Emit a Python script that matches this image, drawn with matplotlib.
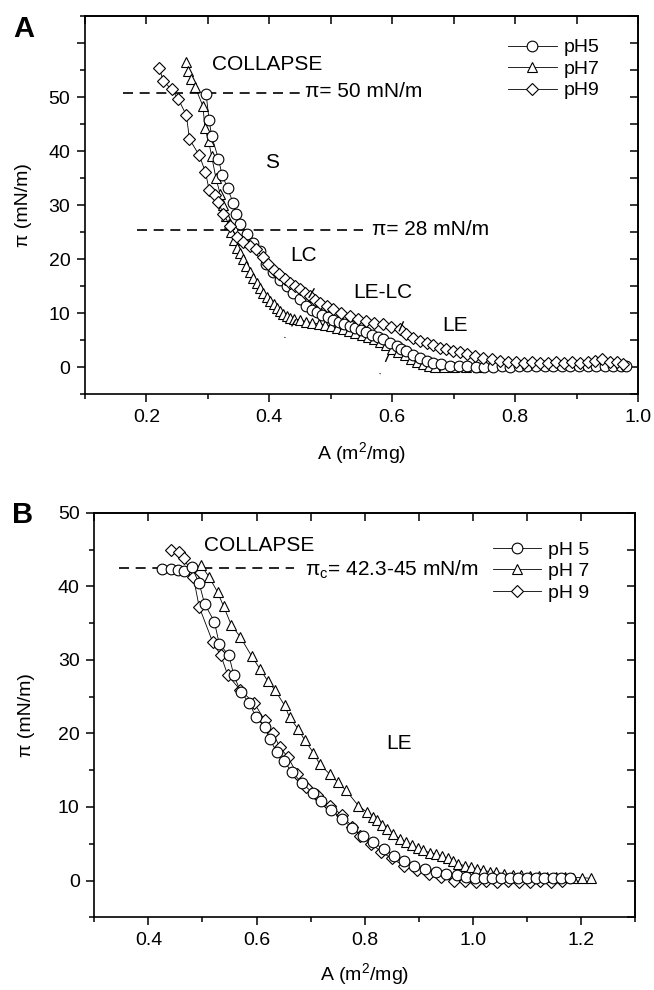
import matplotlib
matplotlib.use('Agg')
import matplotlib.pyplot as plt
from matplotlib.ticker import MultipleLocator, FixedLocator

plt.rcParams['font.family'] = ['Liberation Sans', 'DejaVu Sans']
plt.rcParams['mathtext.fontset'] = 'custom'
plt.rcParams['mathtext.rm'] = 'Liberation Sans'
plt.rcParams['mathtext.it'] = 'Liberation Sans:italic'

# ---------------- panel A data (area m2/mg, surface pressure mN/m) ----------------
a_ph5 = [0.297, 0.302, 0.306, 0.317, 0.323, 0.332, 0.341, 0.345, 0.353, 0.363,
         0.374, 0.385, 0.395, 0.406, 0.417, 0.428, 0.439, 0.450, 0.460, 0.469,
         0.477, 0.486, 0.495, 0.504, 0.513, 0.522, 0.531, 0.540, 0.549, 0.558,
         0.567, 0.576, 0.585, 0.596, 0.607, 0.615, 0.623, 0.634, 0.645, 0.656,
         0.666, 0.680, 0.694, 0.708, 0.722, 0.736, 0.750, 0.764, 0.778, 0.792,
         0.806, 0.820, 0.834, 0.848, 0.862, 0.876, 0.890, 0.904, 0.918, 0.932,
         0.946, 0.960, 0.972, 0.980]
p_ph5 = [50.6, 45.7, 42.8, 38.6, 35.6, 33.1, 30.4, 28.4, 26.4, 24.7,
         23.0, 21.4, 19.0, 17.6, 16.2, 15.0, 13.8, 12.6, 11.3, 10.6,
         10.1, 9.6, 9.2, 8.8, 8.4, 8.0, 7.6, 7.2, 6.8, 6.4,
         5.9, 5.5, 5.1, 4.5, 3.9, 3.4, 3.0, 2.3, 1.7, 1.2,
         0.8, 0.5, 0.2, 0.1, 0.1, 0.0, 0.0, 0.0, 0.1, 0.0,
         0.1, 0.1, 0.1, 0.1, 0.1, 0.1, 0.1, 0.2, 0.2, 0.2,
         0.2, 0.2, 0.2, 0.2]

a_ph7 = [0.265, 0.268, 0.273, 0.279, 0.292, 0.295, 0.301, 0.306, 0.313, 0.320,
         0.325, 0.330, 0.334, 0.338, 0.342, 0.347, 0.352, 0.357, 0.362, 0.368,
         0.374, 0.380, 0.385, 0.390, 0.396, 0.401, 0.407, 0.412, 0.417, 0.422,
         0.428, 0.433, 0.440, 0.450, 0.460, 0.470, 0.480, 0.490, 0.500, 0.510,
         0.520, 0.530, 0.540, 0.550, 0.560, 0.570, 0.580, 0.590, 0.600, 0.610,
         0.620, 0.630, 0.640, 0.650, 0.660, 0.670, 0.685, 0.700, 0.720, 0.740]
p_ph7 = [56.4, 54.8, 53.3, 51.9, 48.3, 44.3, 41.9, 39.1, 35.0, 32.0,
         30.0, 28.0, 26.5, 25.0, 23.5, 22.0, 21.2, 20.0, 18.8, 17.6,
         16.5, 15.6, 14.6, 13.8, 13.0, 12.3, 11.6, 11.0, 10.4, 9.9,
         9.4, 9.0, 8.9, 8.7, 8.4, 8.2, 8.0, 7.8, 7.6, 7.3,
         7.0, 6.7, 6.3, 6.0, 5.6, 5.1, 4.6, 4.0, 3.4, 2.8,
         2.2, 1.5, 0.9, 0.5, 0.2, 0.0, 0.0, 0.0, 0.0, 0.0]

a_ph9 = [0.221, 0.227, 0.241, 0.252, 0.265, 0.270, 0.286, 0.296, 0.302, 0.311,
         0.317, 0.325, 0.336, 0.347, 0.357, 0.368, 0.379, 0.389, 0.398, 0.407,
         0.416, 0.425, 0.433, 0.441, 0.450, 0.458, 0.466, 0.474, 0.482, 0.493,
         0.504, 0.517, 0.531, 0.544, 0.558, 0.571, 0.585, 0.598, 0.612, 0.623,
         0.634, 0.645, 0.656, 0.667, 0.677, 0.688, 0.699, 0.710, 0.721, 0.735,
         0.748, 0.762, 0.775, 0.788, 0.801, 0.814, 0.827, 0.840, 0.853, 0.866,
         0.879, 0.892, 0.905, 0.918, 0.930, 0.942, 0.954, 0.966, 0.976]
p_ph9 = [55.4, 53.0, 51.4, 49.6, 46.6, 42.2, 39.2, 36.1, 32.8, 31.8,
         30.6, 28.3, 26.2, 24.0, 23.2, 22.5, 21.8, 20.3, 19.0, 18.0,
         17.2, 16.3, 15.6, 15.0, 14.4, 13.7, 13.1, 12.5, 11.9, 11.3,
         10.7, 10.0, 9.4, 8.9, 8.5, 8.2, 7.9, 7.4, 7.0, 6.2,
         5.4, 4.9, 4.5, 4.0, 3.6, 3.3, 3.0, 2.7, 2.4, 2.0,
         1.7, 1.4, 1.1, 1.0, 0.9, 0.8, 0.9, 0.8, 0.8, 0.9,
         0.8, 0.9, 0.8, 1.0, 1.1, 1.4, 1.0, 0.9, 0.6]

# ---------------- panel B data ----------------
b_ph5 = [0.426, 0.441, 0.454, 0.466, 0.480, 0.494, 0.504, 0.522, 0.531, 0.549,
         0.558, 0.571, 0.587, 0.599, 0.615, 0.624, 0.637, 0.650, 0.665, 0.685,
         0.704, 0.719, 0.738, 0.758, 0.777, 0.796, 0.815, 0.835, 0.854, 0.873,
         0.892, 0.912, 0.931, 0.950, 0.970, 0.988, 1.004, 1.020, 1.036, 1.052,
         1.068, 1.084, 1.100, 1.116, 1.132, 1.148, 1.164, 1.180]
q_ph5 = [42.3, 42.3, 42.2, 42.1, 42.6, 40.4, 37.6, 35.2, 32.2, 30.6,
         27.9, 25.6, 24.1, 22.2, 20.9, 19.3, 17.5, 16.3, 14.8, 13.2,
         11.9, 10.8, 9.6, 8.4, 7.1, 6.1, 5.2, 4.3, 3.4, 2.7,
         2.0, 1.6, 1.1, 0.9, 0.7, 0.5, 0.4, 0.4, 0.3, 0.3,
         0.3, 0.3, 0.3, 0.3, 0.3, 0.3, 0.3, 0.3]

b_ph7 = [0.497, 0.512, 0.528, 0.539, 0.553, 0.570, 0.591, 0.606, 0.621, 0.634,
         0.652, 0.661, 0.677, 0.689, 0.705, 0.717, 0.735, 0.750, 0.765, 0.788,
         0.804, 0.815, 0.823, 0.832, 0.842, 0.853, 0.865, 0.877, 0.888, 0.898,
         0.908, 0.920, 0.931, 0.943, 0.954, 0.963, 0.973, 0.985, 0.996, 1.008,
         1.019, 1.031, 1.042, 1.058, 1.074, 1.090, 1.106, 1.122, 1.138, 1.154,
         1.170, 1.186, 1.202, 1.218]
q_ph7 = [42.9, 41.3, 39.2, 37.3, 34.8, 33.1, 30.5, 28.8, 27.1, 25.9,
         23.8, 22.2, 20.6, 19.1, 17.4, 15.8, 14.5, 13.4, 12.3, 10.2,
         9.3, 8.7, 8.2, 7.6, 7.0, 6.3, 5.7, 5.2, 4.8, 4.4,
         4.1, 3.8, 3.6, 3.3, 3.0, 2.6, 2.3, 2.0, 1.8, 1.6,
         1.4, 1.2, 1.1, 0.9, 0.8, 0.7, 0.6, 0.6, 0.5, 0.5,
         0.5, 0.4, 0.4, 0.3]

b_ph9 = [0.442, 0.456, 0.465, 0.478, 0.483, 0.494, 0.519, 0.534, 0.547, 0.570,
         0.596, 0.615, 0.631, 0.643, 0.658, 0.675, 0.692, 0.712, 0.735, 0.758,
         0.777, 0.792, 0.812, 0.831, 0.850, 0.873, 0.896, 0.919, 0.942, 0.965,
         0.985, 1.005, 1.025, 1.045, 1.065, 1.085, 1.105, 1.125, 1.145, 1.165]
q_ph9 = [44.9, 44.7, 43.8, 42.2, 41.3, 37.2, 32.4, 30.6, 27.9, 25.9,
         24.1, 21.8, 20.0, 18.1, 16.8, 14.5, 12.7, 11.6, 10.2, 8.9,
         7.3, 6.1, 5.0, 3.9, 3.0, 2.0, 1.4, 0.9, 0.5, 0.0,
         -0.1, -0.2, -0.1, -0.2, -0.1, -0.2, -0.2, -0.1, -0.2, -0.1]

# annotation guides
collapse_a = 50.7
pi28_line = 25.4
lc_guide = ([0.425, 0.484], [5.4, 16.6])
lelc_guide = ([0.580, 0.624], [-1.3, 9.9])
collapse_b = 42.55

fig = plt.figure(figsize=(6.54, 9.9), dpi=100)
axA = fig.add_axes([0.130, 0.602, 0.8456, 0.3818])
axB = fig.add_axes([0.1442, 0.0734, 0.8268, 0.4087])

mk = dict(color='black', lw=0.6, mfc='white', mec='black', mew=0.8)
fs_tick = 14
fs_text = 15

# panel A
l7, = axA.plot(a_ph7, p_ph7, marker='^', ms=7.5, zorder=2, **mk)
l5, = axA.plot(a_ph5, p_ph5, marker='o', ms=7.7, zorder=3, **mk)
l9, = axA.plot(a_ph9, p_ph9, marker='D', ms=6.2, zorder=4, **mk)

axA.plot([0.162, 0.455], [collapse_a, collapse_a], color='black', lw=1.2, ls=(0, (6, 4)))
axA.plot([0.184, 0.552], [pi28_line, pi28_line], color='black', lw=1.2, ls=(0, (6, 4)))
for gx, gy in (lc_guide, lelc_guide):
    axA.plot(gx, gy, color='black', lw=1.0, ls=(0, (0.6, 9, 6, 18, 8, 30)), zorder=5)

axA.text(0.306, 56.1, 'COLLAPSE', fontsize=fs_text, va='center', ha='left')
axA.text(0.458, 51.1, 'π= 50 mN/m', fontsize=fs_text, va='center', ha='left')
axA.text(0.567, 25.5, 'π= 28 mN/m', fontsize=fs_text, va='center', ha='left')
axA.text(0.404, 37.9, 'S', fontsize=fs_text, va='center', ha='center')
axA.text(0.455, 20.6, 'LC', fontsize=fs_text, va='center', ha='center')
axA.text(0.585, 13.8, 'LE-LC', fontsize=fs_text, va='center', ha='center')
axA.text(0.702, 7.6, 'LE', fontsize=fs_text, va='center', ha='center')

axA.set_xlim(0.1, 1.0)
axA.set_ylim(-5, 65)
axA.xaxis.set_major_locator(FixedLocator([0.2, 0.4, 0.6, 0.8, 1.0]))
axA.xaxis.set_minor_locator(MultipleLocator(0.1))
axA.set_yticks([0, 10, 20, 30, 40, 50, 60])
axA.set_yticklabels(['0', '10', '20', '30', '40', '50', ''])
axA.yaxis.set_minor_locator(MultipleLocator(5))
axA.set_xlabel('A (m$^\\mathregular{2}$/mg)', fontsize=fs_tick)
axA.set_ylabel('π (mN/m)', fontsize=fs_tick)
axA.xaxis.set_label_coords(0.5, -0.122)
axA.yaxis.set_label_coords(-0.096, 0.5)

axA.legend([l5, l7, l9], ['pH5', 'pH7', 'pH9'], loc='upper left',
           bbox_to_anchor=(0.765, 0.94), frameon=False, fontsize=fs_tick,
           handlelength=2.5, handletextpad=0.35, labelspacing=0.2,
           borderpad=0, borderaxespad=0)

# panel B
m9, = axB.plot(b_ph9, q_ph9, marker='D', ms=6.2, zorder=2, **mk)
m7, = axB.plot(b_ph7, q_ph7, marker='^', ms=7.5, zorder=3, **mk)
m5, = axB.plot(b_ph5, q_ph5, marker='o', ms=7.7, zorder=4, **mk)

axB.plot([0.345, 0.670], [collapse_b, collapse_b], color='black', lw=1.2, ls=(0, (6, 4)))
axB.text(0.503, 45.6, 'COLLAPSE', fontsize=fs_text, va='center', ha='left')
axB.text(0.689, 42.2, '$\\mathregular{\\pi_c}$= 42.3-45 mN/m', fontsize=fs_text,
         va='center', ha='left')
axB.text(0.863, 18.6, 'LE', fontsize=fs_text, va='center', ha='center')

axB.set_xlim(0.3, 1.3)
axB.set_ylim(-5, 50)
axB.xaxis.set_major_locator(FixedLocator([0.4, 0.6, 0.8, 1.0, 1.2]))
axB.xaxis.set_minor_locator(MultipleLocator(0.1))
axB.set_yticks([0, 10, 20, 30, 40, 50])
axB.yaxis.set_minor_locator(MultipleLocator(5))
axB.set_xlabel('A (m$^\\mathregular{2}$/mg)', fontsize=fs_tick)
axB.set_ylabel('π (mN/m)', fontsize=fs_tick)
axB.xaxis.set_label_coords(0.5, -0.108)
axB.yaxis.set_label_coords(-0.109, 0.5)

axB.legend([m5, m7, m9], ['pH 5', 'pH 7', 'pH 9'], loc='upper left',
           bbox_to_anchor=(0.737, 0.93), frameon=False, fontsize=fs_tick,
           handlelength=2.5, handletextpad=0.35, labelspacing=0.2,
           borderpad=0, borderaxespad=0)

for ax in (axA, axB):
    for s in ax.spines.values():
        s.set_linewidth(1.2)
    ax.tick_params(which='major', direction='out', length=6, width=1.1,
                   labelsize=fs_tick, pad=4.5)
    ax.tick_params(which='minor', direction='out', length=3.3, width=1.1)
    top = ax.secondary_xaxis('top')
    top.xaxis.set_major_locator(MultipleLocator(0.1))
    top.tick_params(direction='in', length=5.5, width=1.1, labeltop=False)
    right = ax.secondary_yaxis('right')
    right.yaxis.set_major_locator(MultipleLocator(5))
    right.tick_params(direction='in', length=5.5, width=1.1, labelright=False)
    for s in list(top.spines.values()) + list(right.spines.values()):
        s.set_linewidth(1.2)

fig.text(13 / 654, 1 - 29 / 990, 'A', fontsize=21, weight='bold', va='center', ha='left')
fig.text(12 / 654, 1 - 515 / 990, 'B', fontsize=21, weight='bold', va='center', ha='left')

fig.savefig('out.png', dpi=100)
